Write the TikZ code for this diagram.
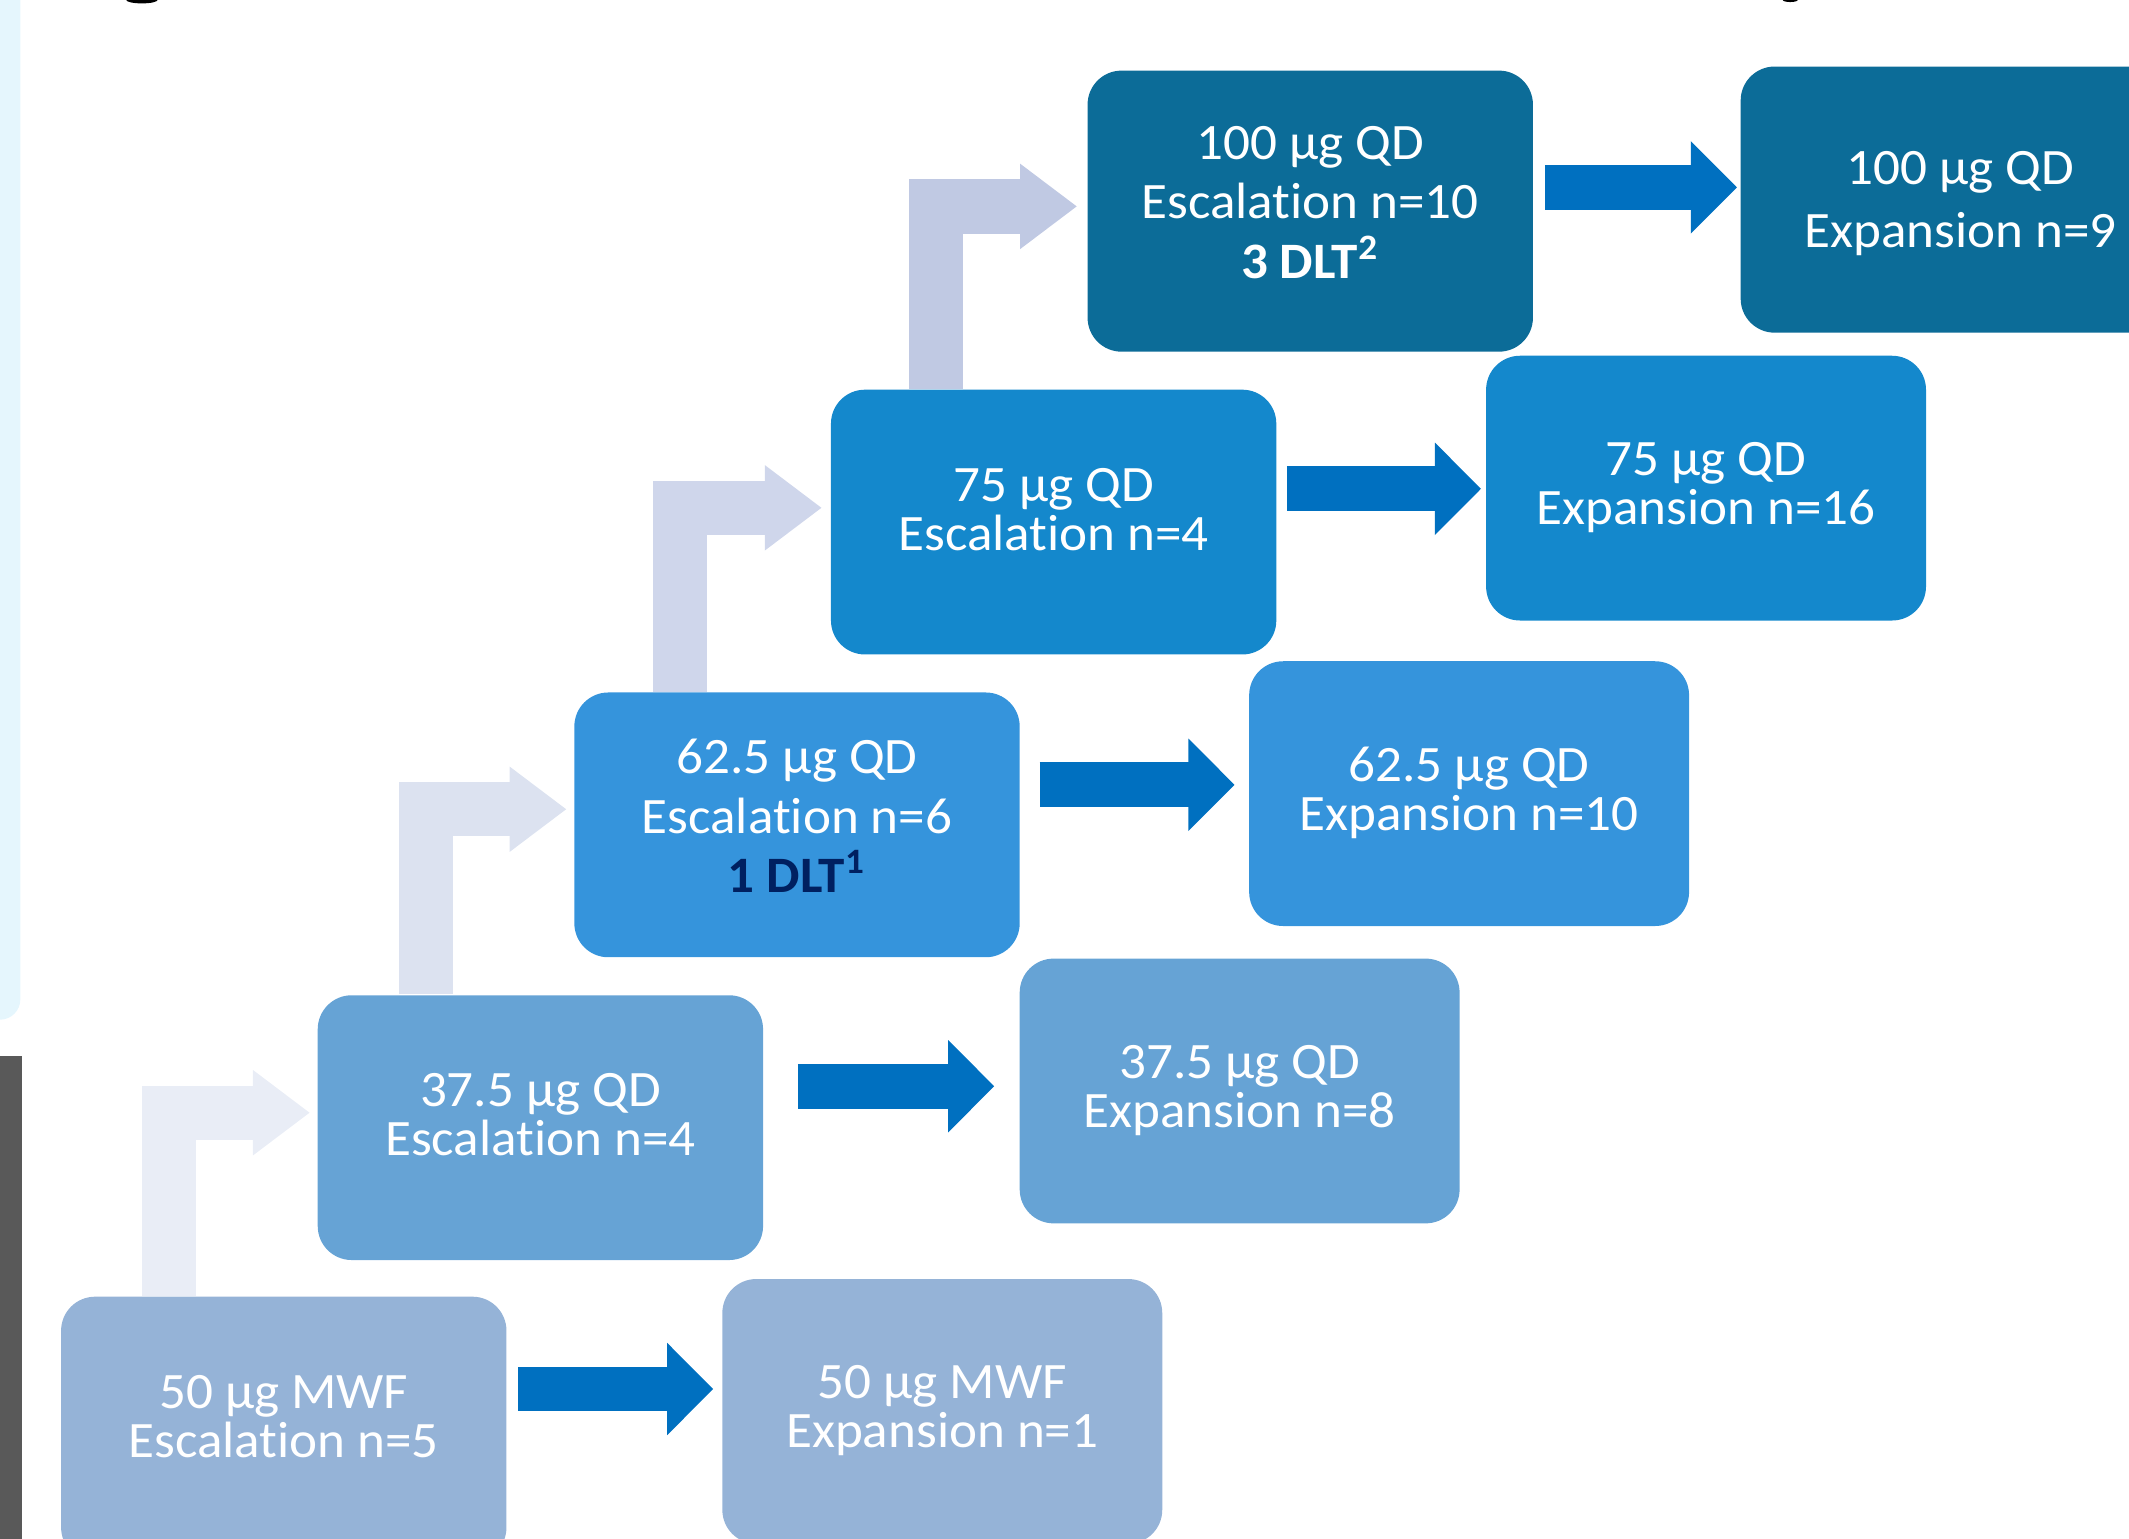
\documentclass[tikz,border=0pt]{standalone}
\usepackage{fontspec}
\setmainfont{Carlito}[FakeStretch=1.04, Ligatures=NoCommon]
\usetikzlibrary{arrows.meta}
\definecolor{lvlone}{HTML}{95B3D7}
\definecolor{lvltwo}{HTML}{66A3D5}
\definecolor{lvlthree}{HTML}{3594DC}
\definecolor{lvlfour}{HTML}{1488CC}
\definecolor{lvlfive}{HTML}{0C6C98}
\definecolor{pushblue}{HTML}{0070C0}
\definecolor{stepone}{HTML}{E9EDF6}
\definecolor{steptwo}{HTML}{DCE2F0}
\definecolor{stepthree}{HTML}{CFD6EB}
\definecolor{stepfour}{HTML}{C0C9E3}
\definecolor{dltnavy}{HTML}{002060}
\definecolor{sidepanel}{HTML}{E5F6FD}
\definecolor{sidebar}{HTML}{595959}
\tikzset{
  dosebox/.style={rectangle, rounded corners=2.5mm, text=white, align=center, inner sep=0pt,
    minimum width=32.8mm, minimum height=19.5mm, font=\fontsize{10.7pt}{10.2pt}\selectfont},
  escbox/.style={dosebox, text depth=1.9mm},
  escboxtall/.style={dosebox, text depth=1.3mm, font=\fontsize{10.7pt}{12.5pt}\selectfont},
  expbox/.style={dosebox, minimum width=32.4mm, text depth=0.7mm},
  pusharrow/.style={draw=pushblue, line width=3.3mm, -{Triangle[length=3.4mm, width=6.6mm]}},
  climbarrow/.style={line width=4mm, line join=miter, -{Triangle[length=4.2mm, width=6mm]}}
}

\begin{document}
\begin{tikzpicture}[x=0.1mm, y=-0.1mm]%
\useasboundingbox (0,0) rectangle (1568,1133);%
\clip (0,0) rectangle (1568,1133);%
% page edge strips and cut-off title glyphs
\fill[sidepanel, rounded corners=1.5mm] (-20,-20) rectangle (15,751);%
\fill[sidebar] (0,778) rectangle (16,1140);%
\fill[black] (104.5,0) ellipse (11.5 and 2.5);%
\fill[black] (1318.5,0) ellipse (5.5 and 1.5);%
% escalation steps
\node[escbox, fill=lvlone] (esc1) at (209,1052.5) {50 µg MWF\\Escalation n=5};%
\node[escbox, fill=lvltwo] (esc2) at (398,830.5) {37.5 µg QD\\Escalation n=4};%
\node[escboxtall, fill=lvlthree] (esc3) at (587,607.5) {62.5 µg QD\\Escalation n=6\\\textcolor{dltnavy}{\bfseries 1 DLT\textsuperscript{1}}};%
\node[escbox, fill=lvlfour] (esc4) at (776,384.5) {75 µg QD\\Escalation n=4};%
\node[escboxtall, fill=lvlfive, minimum height=20.7mm] (esc5) at (965,155.5) {100 µg QD\\Escalation n=10\\{\bfseries 3 DLT\textsuperscript{2}}};%
% expansion cohorts
\node[expbox, fill=lvlone] (exp1) at (694,1039.5) {50 µg MWF\\Expansion n=1};%
\node[expbox, fill=lvltwo] (exp2) at (913,803.5) {37.5 µg QD\\Expansion n=8};%
\node[expbox, fill=lvlthree] (exp3) at (1082,584.5) {62.5 µg QD\\Expansion n=10};%
\node[expbox, fill=lvlfour] (exp4) at (1256.5,359.5) {75 µg QD\\Expansion n=16};%
\node[expbox, fill=lvlfive, minimum height=19.6mm, text depth=0pt, font=\fontsize{10.7pt}{13.2pt}\selectfont] (exp5) at (1444,147) {100 µg QD\\Expansion n=9};%
% step up to the next dose
\draw[climbarrow, draw=stepone] ([xshift=8mm]esc1.north west) |- ([xshift=-0.5mm, yshift=1.1mm]esc2.west);%
\draw[climbarrow, draw=steptwo] ([xshift=8.05mm]esc2.north west) |- ([xshift=-0.5mm, yshift=1.15mm]esc3.west);%
\draw[climbarrow, draw=stepthree] ([xshift=7.85mm]esc3.north west) |- ([xshift=-0.6mm, yshift=1.05mm]esc4.west);%
\draw[climbarrow, draw=stepfour] ([xshift=7.8mm]esc4.north west) |- ([xshift=-0.7mm, yshift=0.35mm]esc5.west);%
% escalation to expansion
\draw[pusharrow, shorten <=0.8mm, shorten >=0.6mm] ([yshift=2.95mm]esc1.east) -- ([yshift=2.95mm]esc1.east -| exp1.west);%
\draw[pusharrow, shorten <=2.5mm, shorten >=1.8mm] ([yshift=3.05mm]esc2.east) -- ([yshift=3.05mm]esc2.east -| exp2.west);%
\draw[pusharrow, shorten <=1.4mm, shorten >=1mm] ([yshift=2.95mm]esc3.east) -- ([yshift=2.95mm]esc3.east -| exp3.west);%
\draw[pusharrow, shorten <=0.7mm, shorten >=0.3mm] ([yshift=2.45mm]esc4.east) -- ([yshift=2.45mm]esc4.east -| exp4.west);%
\draw[pusharrow, shorten <=0.8mm, shorten >=0.2mm] ([yshift=1.75mm]esc5.east) -- ([yshift=1.75mm]esc5.east -| exp5.west);%
\end{tikzpicture}
\end{document}
